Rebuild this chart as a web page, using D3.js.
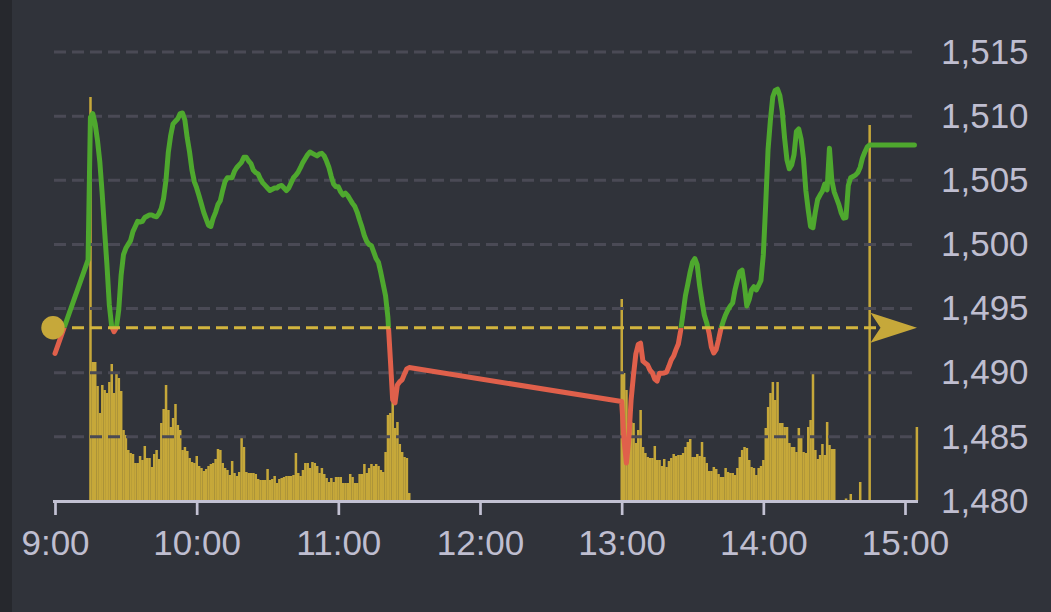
<!DOCTYPE html>
<html><head><meta charset="utf-8">
<script src="https://cdn.jsdelivr.net/npm/d3@7"></script>
<style>html,body{margin:0;padding:0;background:#30333a;overflow:hidden}</style>
</head><body><svg id="c" width="1051" height="612"></svg>
<script>
// ---------------- data ----------------
const prevClose = 1493.5;
const priceTicks = [1480, 1485, 1490, 1495, 1500, 1505, 1510, 1515];
const hourTicks = ["9:00", "10:00", "11:00", "12:00", "13:00", "14:00", "15:00"];

const openTime = "9:00", openPrice = 1491.5;
const amStart = "9:14";
const amPrices = [
  1498.8,1509.9,1510.2,1509.4,1508.1,1506.4,1503.9,1501.1,1498.4,1495.3,1493.6,1493.2,1493.5,
  1494.9,1497.6,1499.2,1499.7,1500.0,1500.3,1501.0,1501.4,1501.8,1501.75,1501.8,1502.1,1502.2,
  1502.3,1502.3,1502.2,1502.15,1502.4,1502.8,1503.6,1505.0,1507.2,1508.5,1509.4,1509.6,1509.8,
  1510.2,1510.25,1509.7,1508.3,1507.2,1505.8,1504.9,1504.4,1503.8,1503.15,1502.5,1502.0,1501.5,
  1501.4,1502.05,1502.5,1503.1,1503.4,1504.2,1504.9,1505.2,1505.2,1505.2,1505.7,1506.0,1506.2,
  1506.4,1506.8,1506.8,1506.5,1506.3,1505.8,1505.6,1505.5,1505.1,1504.8,1504.6,1504.4,1504.2,
  1504.3,1504.4,1504.4,1504.55,1504.6,1504.4,1504.2,1504.4,1504.8,1505.2,1505.4,1505.65,1506.0,
  1506.4,1506.7,1507.0,1507.2,1507.1,1507.0,1506.9,1507.05,1507.1,1506.9,1506.5,1506.0,1505.3,
  1504.7,1504.5,1504.5,1504.1,1503.85,1504.0,1503.8,1503.5,1503.2,1502.95,1502.5,1501.9,1501.35,
  1500.7,1500.25,1500.0,1499.9,1499.4,1498.9,1498.6,1497.8,1496.9,1496.0,1494.3,1491.15,1487.9,
  1487.65,1489.05,1489.3,1489.45,1489.9,1490.3,1490.4
];
const pmStart = "13:00";
const pmPrices = [
  1487.75,1484.75,1482.96,1484.75,1487.9,1489.8,1491.46,1492.2,1492.3,1490.9,1490.75,1490.6,
  1490.2,1489.98,1489.5,1489.35,1489.95,1489.95,1489.98,1490.05,1490.5,1491.0,1491.3,1491.8,
  1492.24,1493.3,1494.65,1496.0,1496.9,1497.85,1498.6,1498.9,1498.4,1496.8,1495.6,1494.5,1493.9,
  1493.1,1492.0,1491.54,1491.8,1492.55,1493.4,1494.0,1494.5,1494.9,1495.2,1495.43,1496.45,1497.2,
  1497.85,1498.0,1496.8,1495.2,1495.7,1496.45,1496.7,1496.45,1496.8,1497.2,1499.2,1503.1,1507.4,
  1509.7,1511.5,1512.0,1512.1,1511.6,1510.4,1508.3,1506.6,1505.9,1506.2,1507.0,1508.8,1509.0,
  1508.2,1506.7,1504.2,1502.7,1501.4,1501.3,1502.5,1503.5,1503.85,1504.15,1504.7,1504.25,1507.5,
  1505.0,1504.1,1503.6,1503.1,1502.45,1502.05,1502.1,1504.6,1505.2,1505.3,1505.4,1505.6,1506.0,
  1506.75,1507.2,1507.6,1507.75
];
const closeTime = "15:04", closePrice = 1507.75;

const amVolStart = "9:15";
const amVolumes = [
  404,139,139,115,88,116,111,108,119,137,108,127,123,110,71,66,51,48,47,38,38,45,41,55,43,43,34,
  47,51,42,78,92,116,91,74,83,97,76,71,51,54,50,43,39,38,45,35,33,30,32,35,37,38,42,52,51,38,33,
  31,26,40,28,25,29,64,54,29,28,28,28,27,22,21,21,21,32,21,22,25,18,22,23,24,25,25,25,26,48,28,
  25,31,38,38,33,39,38,35,28,33,27,23,19,23,19,24,24,24,18,18,18,27,24,18,18,27,27,37,28,33,37,
  35,37,35,31,29,49,86,88,101,73,79,57,49,44,43,8
];
const pmVolStart = "13:00";
const pmVolumes = [
  202,128,111,78,79,78,58,71,91,54,48,44,43,43,55,41,41,35,42,34,40,43,47,45,46,46,48,54,59,62,
  44,44,47,45,59,44,38,30,30,34,32,27,24,24,33,29,28,28,26,33,44,51,54,53,41,34,33,26,33,35,41,
  73,94,108,119,101,119,78,78,74,74,58,54,54,49,73,64,49,48,74,81,128,51,42,46,57,46,79,56,52,52
];
const lateVolTimes = ["14:33", "14:34", "14:35", "14:37", "14:41", "14:45", "15:05"];
const lateVolumes = [1, 1, 2.5, 7, 19, 376, 74];

// ---------------- helpers ----------------
const T = s => { const [h, m] = s.split(":").map(Number); return new Date(2020, 0, 2, h, m); };
const addMin = (d, k) => new Date(d.getTime() + k * 60000);

const priceSeries = [{ t: T(openTime), p: openPrice }]
  .concat(amPrices.map((p, i) => ({ t: addMin(T(amStart), i), p })))
  .concat(pmPrices.map((p, i) => ({ t: addMin(T(pmStart), i), p })))
  .concat([{ t: T(closeTime), p: closePrice }]);

const volSeries = amVolumes.map((v, i) => ({ t: addMin(T(amVolStart), i), v }))
  .concat(pmVolumes.map((v, i) => ({ t: addMin(T(pmVolStart), i), v })))
  .concat(lateVolumes.map((v, i) => ({ t: T(lateVolTimes[i]), v })));

// ---------------- layout ----------------
const W = 1051, H = 612;
const plotLeft = 55, plotRight = 905, plotTop = 52, plotBottom = 501;
const gridLeft = 54, gridRight = 912;

const x = d3.scaleTime().domain([T("9:00"), T("15:00")]).range([plotLeft, plotRight]);
const y = d3.scaleLinear().domain([1480, 1515]).range([plotBottom, plotTop]);
const yVol = d3.scaleLinear().domain([0, 404]).range([plotBottom, 97]);

const C = {
  bg: "#30333a", strip: "#26282d", grid: "#4a4a55", axis: "#c2c1d2", text: "#bfbed0",
  up: "#4ea82e", down: "#e0604b", gold: "#c6a83a", goldLine: "#d2b53e"
};

const svg = d3.select("#c");
svg.append("rect").attr("width", W).attr("height", H).attr("fill", C.bg);
svg.append("rect").attr("width", 12).attr("height", H).attr("fill", C.strip);

// clip paths
const defs = svg.append("defs");
defs.append("clipPath").attr("id", "above").append("rect")
  .attr("x", 0).attr("y", 0).attr("width", W).attr("height", y(prevClose));
defs.append("clipPath").attr("id", "below").append("rect")
  .attr("x", 0).attr("y", y(prevClose)).attr("width", W).attr("height", H - y(prevClose));

// volume bars
const barW = x(addMin(T("9:00"), 1)) - x(T("9:00"));
svg.append("g").selectAll("rect").data(volSeries).join("rect")
  .attr("x", d => x(d.t) - barW / 2)
  .attr("width", barW + 0.15)
  .attr("y", d => yVol(d.v))
  .attr("height", d => yVol(0) - yVol(d.v))
  .attr("fill", C.gold);

// grid lines
svg.append("g").selectAll("line").data(priceTicks.filter(v => v > 1480)).join("line")
  .attr("x1", gridLeft).attr("x2", gridRight)
  .attr("y1", d => y(d)).attr("y2", d => y(d))
  .attr("stroke", C.grid).attr("stroke-width", 3).attr("stroke-dasharray", "12 6");

// price line
const line = d3.line().x(d => x(d.t)).y(d => y(d.p));
svg.append("path").datum(priceSeries).attr("d", line)
  .attr("fill", "none").attr("stroke", C.down).attr("stroke-width", 5)
  .attr("stroke-linejoin", "round").attr("stroke-linecap", "round")
  .attr("clip-path", "url(#below)");
svg.append("path").datum(priceSeries).attr("d", line)
  .attr("fill", "none").attr("stroke", C.up).attr("stroke-width", 5)
  .attr("stroke-linejoin", "round").attr("stroke-linecap", "round")
  .attr("clip-path", "url(#above)");

// previous close reference
const yRef = y(prevClose);
svg.append("line").attr("x1", 72).attr("x2", 876).attr("y1", yRef).attr("y2", yRef)
  .attr("stroke", C.goldLine).attr("stroke-width", 3).attr("stroke-dasharray", "12 6");
svg.append("circle").attr("cx", 53).attr("cy", yRef).attr("r", 11.7).attr("fill", C.gold);
svg.append("path")
  .attr("d", `M870.5,${yRef - 15} L917,${yRef} L870.5,${yRef + 15} L880.5,${yRef} Z`)
  .attr("fill", C.gold);

// x axis
svg.append("line").attr("x1", 53).attr("x2", 918).attr("y1", plotBottom + 0.5).attr("y2", plotBottom + 0.5)
  .attr("stroke", C.axis).attr("stroke-width", 3);
const xAxis = d3.axisBottom(x).tickValues(hourTicks.map(T))
  .tickFormat(d3.timeFormat("%-H:%M")).tickSizeInner(14).tickSizeOuter(0).tickPadding(15);
const gx = svg.append("g").attr("transform", `translate(0,${plotBottom})`).call(xAxis);
gx.select(".domain").remove();
gx.selectAll(".tick line").attr("stroke", C.axis).attr("stroke-width", 2.7);
gx.selectAll(".tick text").attr("fill", C.text)
  .style("font-family", "'Liberation Sans', Arial, Helvetica, sans-serif").style("font-size", "35px");

// y axis (labels on right)
const yAxis = d3.axisRight(y).tickValues(priceTicks).tickFormat(d3.format(",")).tickSize(0).tickPadding(0);
const gy = svg.append("g").attr("transform", "translate(941,0)").call(yAxis);
gy.select(".domain").remove();
gy.selectAll(".tick text").attr("fill", C.text)
  .style("font-family", "'Liberation Sans', Arial, Helvetica, sans-serif").style("font-size", "35px");
</script></body></html>
